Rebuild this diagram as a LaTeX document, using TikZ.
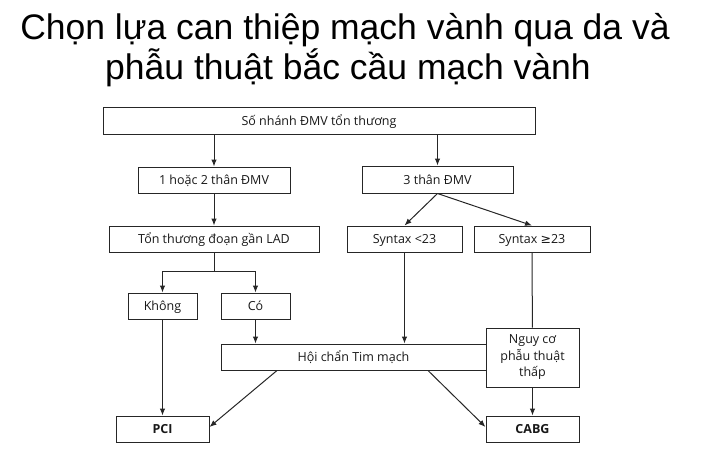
\documentclass[tikz,border=0pt]{standalone}
\usepackage{fontspec}
\setmainfont{Open Sans}
\newfontfamily\titlefont{Liberation Sans}
\newfontfamily\symfont{DejaVu Sans}
\usetikzlibrary{arrows.meta}
\begin{document}
\begin{tikzpicture}[x=1pt,y=-1pt,
    box/.style={draw=black!85,line width=1pt,fill=white,inner sep=0pt,text=black!90,
        text height=11.5pt,text depth=2.5pt,font=\fontsize{12.5}{16.5}\selectfont},
    arr/.style={draw=black!85,line width=1pt,-{Latex[length=7pt,width=5.5pt]}},
    lin/.style={draw=black!85,line width=1pt},
    headline/.style={anchor=base,font=\titlefont\fontsize{35.5}{40}\selectfont}]

    % Fix the page to the size of the reference
    \useasboundingbox (0,0) rectangle (703,453);

    % Draw the title (two lines)
    \node[headline] (title1) at (345,39) {Chọn lựa can thiệp mạch vành qua da và};
    \node[headline] (title2) at (348,79) {phẫu thuật bắc cầu mạch vành};

    % Draw the boxes of the first three rows
    \node[box,minimum width=432pt,minimum height=27pt] (so) at (319,120.5) {Số nhánh ĐMV tổn thương};
    \node[box,minimum width=152pt,minimum height=26pt] (onetwo) at (214,180) {1 hoặc 2 thân ĐMV};
    \node[box,minimum width=151pt,minimum height=27pt] (three) at (437.5,179.5) {3 thân ĐMV};
    \node[box,minimum width=210pt,minimum height=26pt] (lad) at (214,239) {Tổn thương đoạn gần LAD};
    \node[box,minimum width=115pt,minimum height=26pt] (synlow) at (404.5,239) {Syntax <23};
    \node[box,minimum width=116pt,minimum height=26pt] (synhigh) at (532,239) {Syntax {\symfont ≥}23};

    % Draw the lower boxes
    \node[box,minimum width=69pt,minimum height=26pt] (khong) at (162.5,306) {Không};
    \node[box,minimum width=69pt,minimum height=26pt] (co) at (255.5,306) {Có};
    \node[box,minimum width=265pt,minimum height=26pt] (hoi) at (353.5,357) {Hội chẩn Tim mạch};
    \node[box,minimum width=93pt,minimum height=59pt,align=center,text height=,text depth=] (nguy) at (532.5,357.5) {Nguy cơ\\phẫu thuật\\thấp};
    \node[box,minimum width=93pt,minimum height=26pt] (pci) at (162.5,429) {\textbf{PCI}};
    \node[box,minimum width=93pt,minimum height=26pt] (cabg) at (532.5,429) {\textbf{CABG}};

    % Draw the arrows out of the top box
    \draw[arr] (so.south -| onetwo) -- (onetwo);
    \draw[arr] (so.south -| three) -- (three);
    \draw[arr] (onetwo) -- (lad);
    \draw[arr] (three.south) -- (synlow.north);
    \draw[arr] (three.south) -- (synhigh.north);

    % Draw the split below LAD
    \coordinate (split) at (214,271);
    \draw[lin] (lad) -- (split);
    \draw[arr] (split) -| (khong);
    \draw[arr] (split) -| (co);

    % Draw the arrows into the council and to PCI / CABG
    \draw[arr] (co) -- (co |- hoi.north);
    \draw[arr] (synlow) -- (synlow |- hoi.north);
    \draw[lin] (synhigh) -- (nguy);
    \draw[arr] (nguy) -- (cabg);
    \draw[arr] (khong) -- (pci);
    \draw[arr] ([xshift=-76.5pt]hoi.south) -- ([yshift=2pt]pci.east);
    \draw[arr] ([xshift=74.5pt]hoi.south) -- ([yshift=2pt]cabg.west);

\end{tikzpicture}
\end{document}
